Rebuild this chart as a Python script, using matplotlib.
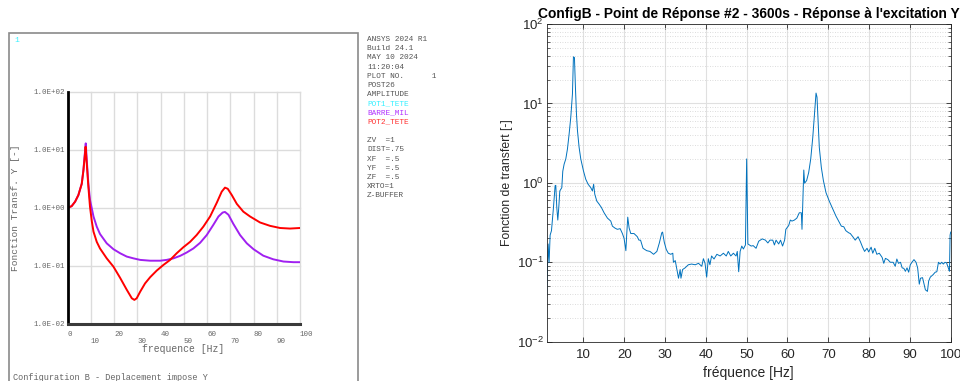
import numpy as np
import matplotlib
matplotlib.use("Agg")
import matplotlib.pyplot as plt
from matplotlib.patches import Rectangle

# --- ANSYS POST26 harmonic response (left) ---
purple_freq = [0, 1.7, 3.2, 4.6, 6.05, 6.77, 7.5, 7.77, 8.2, 8.9, 9.6, 11.1, 12.5, 13.9,
               16.8, 19.7, 22.6, 25.4, 28.3, 31.2, 35.5, 39.8, 42.6, 45.5, 48.4, 51.2,
               54.1, 57.0, 59.85, 62.7, 64.9, 66.7, 67.7, 69.2, 71.3, 74.2, 77.1, 80.0,
               84.2, 88.5, 92.9, 97.2, 100]
purple_amp = [1.0, 1.07, 1.28, 1.66, 2.6, 4.5, 9.9, 12.9, 6.7, 2.6, 1.37, 0.71, 0.475, 0.355,
              0.245, 0.194, 0.165, 0.145, 0.135, 0.127, 0.123, 0.123, 0.127, 0.135, 0.149, 0.17,
              0.20, 0.25, 0.34, 0.51, 0.71, 0.83, 0.85, 0.76, 0.53, 0.34, 0.245, 0.194,
              0.15, 0.13, 0.119, 0.116, 0.116]

red_freq = [0, 1.7, 3.2, 4.6, 6.05, 6.77, 7.5, 7.7, 8.2, 8.9, 9.6, 10.4, 11.1, 12.5, 13.9,
            16.8, 19.7, 22.6, 25.4, 27.6, 28.7, 29.7, 31.2, 33.3, 35.5, 38.3, 41.2, 44.1,
            46.9, 49.8, 52.7, 55.5, 58.4, 61.3, 64.2, 66.3, 67.7, 68.9, 70.6, 72.8, 75.6,
            78.5, 82.8, 87.1, 91.4, 95.7, 100]
red_amp = [1.0, 1.07, 1.28, 1.66, 2.6, 4.4, 9.0, 11.3, 5.8, 2.3, 1.04, 0.58, 0.39, 0.26, 0.20,
           0.135, 0.097, 0.062, 0.039, 0.0277, 0.026, 0.0277, 0.036, 0.05, 0.064, 0.083, 0.104, 0.127,
           0.165, 0.21, 0.26, 0.34, 0.475, 0.71, 1.23, 1.9, 2.23, 2.13, 1.67, 1.17, 0.86,
           0.71, 0.56, 0.49, 0.45, 0.44, 0.45]

ansys_yticks = [1e-2, 1e-1, 1e0, 1e1, 1e2]
ansys_ylabels = ["1.0E-02", "1.0E-01", "1.0E+00", "1.0E+01", "1.0E+02"]
ansys_xticks = [0, 10, 20, 30, 40, 50, 60, 70, 80, 90, 100]

info_lines = [
    ("ANSYS 2024 R1", "#555555"),
    ("Build 24.1", "#555555"),
    ("MAY 10 2024", "#555555"),
    ("11:20:04", "#555555"),
    ("PLOT NO.      1", "#555555"),
    ("POST26", "#555555"),
    ("AMPLITUDE", "#555555"),
    ("POT1_TETE", "#33f0ff"),
    ("BARRE_MIL", "#b030ff"),
    ("POT2_TETE", "#ff3030"),
    ("", "#555555"),
    ("ZV  =1", "#555555"),
    ("DIST=.75", "#555555"),
    ("XF  =.5", "#555555"),
    ("YF  =.5", "#555555"),
    ("ZF  =.5", "#555555"),
    ("XRTO=1", "#555555"),
    ("Z-BUFFER", "#555555"),
]

# --- measured FRF (right) ---
blue_freq = [1.0, 1.19, 1.35, 1.59, 1.84, 2.17, 2.66, 3.06, 3.23, 3.47, 3.72, 3.96, 4.21, 4.45,
             4.7, 4.94, 5.27, 5.68, 6.08, 6.49, 6.9, 7.31, 7.55, 7.8, 8.04, 8.29, 8.53, 8.94,
             9.35, 10.0, 10.57, 11.15, 11.8, 12.2, 12.5, 12.78, 13.27, 13.84, 14.4, 15.06,
             15.88, 16.7, 17.1, 17.7, 18.3, 19.0, 19.55, 19.96, 20.4, 20.6, 20.86, 21.2,
             21.6, 22.4, 23.2, 23.6, 24.0, 24.6, 25.5, 26.3, 27.2, 28.0, 28.6, 29.2, 29.4,
             29.8, 30.3, 30.8, 31.4, 31.9, 32.05, 32.5, 32.9, 33.3, 33.7, 33.9, 34.3, 34.9,
             35.7, 36.5, 37.4, 38.2, 39.0, 39.4, 39.8, 40.2, 40.6, 41.0, 41.4, 42.0, 42.7,
             43.5, 44.3, 45.0, 45.5, 46.1, 46.75, 47.4, 47.7, 48.05, 48.4, 48.8, 49.2, 49.7,
             50.0, 50.3, 51.1, 51.6, 52.3, 52.95, 53.8, 54.6, 55.2, 55.7, 56.4, 56.8, 57.2,
             57.85, 58.3, 58.8, 59.3, 59.6, 60.3, 60.7, 61.1, 61.7, 62.3, 62.9, 63.4, 63.56,
             64.0, 64.2, 64.7, 65.2, 65.7, 66.2, 66.67, 67.0, 67.24, 67.5, 67.8, 68.3, 68.8,
             69.45, 70.3, 71.1, 71.9, 72.55, 73.2, 73.8, 74.3, 75.0, 75.4, 76.0, 76.6, 77.3,
             77.9, 78.4, 78.9, 79.5, 79.9, 80.5, 80.9, 81.4, 81.9, 82.5, 83.2, 83.6, 84.0,
             84.6, 85.2, 85.9, 86.4, 86.8, 87.2, 87.7, 88.1, 88.5, 88.9, 89.3, 89.7, 90.1,
             90.5, 91.0, 91.5, 91.9, 92.3, 92.6, 93.1, 93.4, 93.8, 94.3, 94.6, 95.0, 95.7,
             96.2, 96.6, 97.0, 97.4, 97.8, 98.2, 98.6, 99.0, 99.4, 99.7, 99.85, 100.0]
blue_amp = [0.038, 0.085, 0.17, 0.10, 0.22, 0.25, 0.49, 0.92, 0.93, 0.49, 0.34, 0.49, 0.79, 0.83,
            0.87, 1.4, 1.72, 2.0, 2.66, 4.1, 6.7, 13.2, 38.6, 37.8, 16.0, 7.4, 4.6, 2.8,
            2.0, 1.42, 1.11, 0.96, 0.87, 0.79, 0.96, 0.72, 0.59, 0.54, 0.49, 0.42,
            0.36, 0.33, 0.285, 0.27, 0.26, 0.265, 0.23, 0.20, 0.14, 0.22, 0.37, 0.27,
            0.23, 0.23, 0.21, 0.19, 0.19, 0.15, 0.14, 0.137, 0.126, 0.137, 0.175, 0.235, 0.24,
            0.18, 0.145, 0.13, 0.126, 0.13, 0.10, 0.105, 0.081, 0.063, 0.081, 0.063, 0.081, 0.085,
            0.093, 0.095, 0.093, 0.097, 0.089, 0.111, 0.097, 0.065, 0.111, 0.093, 0.12, 0.11, 0.126,
            0.12, 0.13, 0.12, 0.137, 0.12, 0.13, 0.12, 0.137, 0.076, 0.137, 0.16, 0.147, 0.165,
            2.0, 0.17, 0.16, 0.162, 0.15, 0.184, 0.197, 0.19, 0.175, 0.19, 0.19, 0.165, 0.19,
            0.17, 0.19, 0.16, 0.19, 0.26, 0.29, 0.34, 0.33, 0.34, 0.36, 0.42, 0.42, 0.26,
            1.45, 0.99, 1.07, 1.35, 2.0, 3.74, 8.1, 13.5, 12.0, 6.1, 2.8, 1.56, 1.07,
            0.75, 0.58, 0.47, 0.38, 0.33, 0.285, 0.28, 0.25, 0.235, 0.23, 0.21, 0.19, 0.21,
            0.18, 0.155, 0.137, 0.15, 0.135, 0.155, 0.13, 0.15, 0.126, 0.13, 0.115, 0.097, 0.112,
            0.108, 0.10, 0.10, 0.089, 0.11, 0.097, 0.10, 0.085, 0.084, 0.077, 0.085, 0.075, 0.093,
            0.10, 0.108, 0.10, 0.085, 0.053, 0.063, 0.064, 0.055, 0.045, 0.043, 0.058, 0.065, 0.07,
            0.075, 0.076, 0.10, 0.095, 0.10, 0.095, 0.10, 0.098, 0.085, 0.077, 0.22, 0.24]

W, H = 960, 381
fig = plt.figure(figsize=(W / 100, H / 100), dpi=100)
mono = "Liberation Mono"
sans = "Liberation Sans"

# ANSYS window frame
fig.patches.append(Rectangle((9 / W, -0.05), (358 - 9) / W, (H - 33) / H + 0.05,
                             transform=fig.transFigure, fill=False,
                             edgecolor="#8a8a8a", lw=1.2))

ax1 = fig.add_axes([67.7 / W, (H - 324) / H, 232.3 / W, 232.3 / H])
ax1.set_yscale("log")
ax1.set_xlim(0, 100)
ax1.set_ylim(1e-2, 1e2)
for x in ansys_xticks[1:]:
    ax1.axvline(x, color="#dcdcdc", lw=1, zorder=0, clip_on=False)
for y in ansys_yticks[1:]:
    ax1.axhline(y, color="#dcdcdc", lw=1, zorder=0, clip_on=False)
ax1.plot(purple_freq, purple_amp, color="#a020f0", lw=1.4, solid_joinstyle="round")
ax1.plot(red_freq, red_amp, color="#ff0000", lw=1.4, solid_joinstyle="round")
for s in ["top", "right"]:
    ax1.spines[s].set_visible(False)
ax1.spines["left"].set_color("black")
ax1.spines["left"].set_linewidth(2)
ax1.spines["bottom"].set_color("#3a3a3a")
ax1.spines["bottom"].set_linewidth(2.2)
ax1.set_yticks(ansys_yticks, ansys_ylabels, fontfamily=mono, fontsize=5.4, color="#666666")
ax1.yaxis.set_minor_locator(matplotlib.ticker.NullLocator())
ax1.tick_params(axis="y", length=0, pad=2)
ax1.set_xticks([])
for i, x in enumerate(ansys_xticks):
    ax1.text(x, -0.047 if i % 2 == 0 else -0.077, str(x), transform=ax1.get_xaxis_transform(),
             ha="left", va="center", fontfamily=mono, fontsize=5.4, color="#666666")

fig.text(16 / W, (H - 208) / H, "Fonction Transf. Y [-]", rotation=90, ha="center",
         va="center", fontfamily=mono, fontsize=6.8, color="#666666")
fig.text(183 / W, (H - 349) / H, "frequence [Hz]", ha="center", va="center",
         fontfamily=mono, fontsize=7, color="#666666")
fig.text(13 / W, (H - 377) / H, "Configuration B - Deplacement impose Y", ha="left",
         va="center", fontfamily=mono, fontsize=6.2, color="#666666")
fig.text(14 / W, (H - 40) / H, "1", ha="left", va="center", fontfamily=mono,
         fontsize=5.8, color="#33f0ff")

for i, (line, col) in enumerate(info_lines):
    fig.text(367 / W, (H - 39.5 - 9.2 * i) / H, line, ha="left", va="center",
             fontfamily=mono, fontsize=5.6, color=col)

# --- MATLAB style FRF plot ---
ax2 = fig.add_axes([546.7 / W, (H - 341.7) / H, 404 / W, 317.7 / H])
ax2.plot(blue_freq, blue_amp, color="#0072BD", lw=0.7)
ax2.set_yscale("log")
ax2.set_xlim(1, 100)
ax2.set_ylim(1e-2, 1e2)
ax2.set_xticks(range(10, 101, 10))
ax2.grid(True, which="major", color="#e0e0e0", lw=0.8)
ax2.grid(True, which="minor", axis="y", color="#d0d0d0", lw=0.6, ls=(0, (1, 2)))
ax2.set_axisbelow(True)
ax2.tick_params(which="both", direction="in", top=True, right=True, colors="#262626",
                labelsize=9.5)
ax2.tick_params(which="major", length=3.5, width=0.6)
ax2.tick_params(which="minor", length=2, width=0.5)
ax2.tick_params(axis="x", pad=5)
ax2.tick_params(axis="y", pad=2)
for lbl in ax2.get_xticklabels() + ax2.get_yticklabels():
    lbl.set_fontfamily(sans)
for s in ax2.spines.values():
    s.set_color("#262626")
    s.set_linewidth(0.6)
ax2.set_title("ConfigB - Point de Réponse #2 - 3600s - Réponse à l'excitation Y",
              fontfamily=sans, fontweight="bold", fontsize=9.9, pad=4)
ax2.set_xlabel("fréquence [Hz]", fontfamily=sans, fontsize=10, color="#262626", labelpad=4)
ax2.set_ylabel("Fonction de transfert [-]", fontfamily=sans, fontsize=8.8, color="#262626",
               labelpad=3)

fig.savefig("out.png", dpi=100)
